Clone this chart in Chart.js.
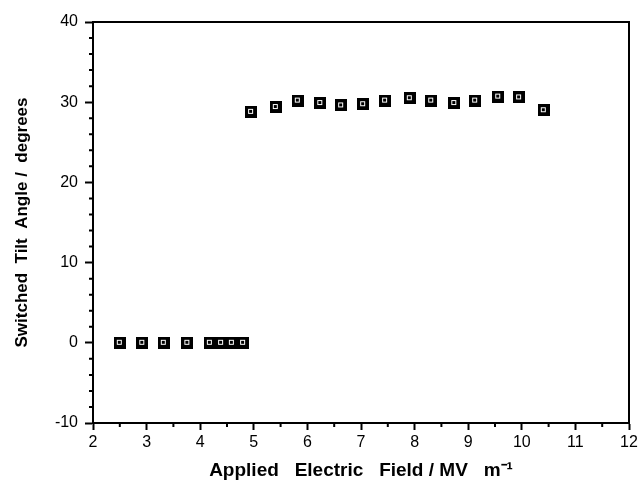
<!DOCTYPE html>
<html>
<head>
<meta charset="utf-8">
<title>Switched Tilt Angle</title>
<script src="https://cdn.jsdelivr.net/npm/chart.js@4"></script>
<style>
    html, body { margin: 0; padding: 0; background: #fff; }
    #wrap { width: 643px; height: 495px; position: relative; }
</style>
</head>
<body>
<div id="wrap"><canvas id="tiltChart"></canvas></div>
<script>
// ============================================
// SWITCHED TILT ANGLE vs APPLIED FIELD
// ============================================

// ========== DATA ==========
const lowField = [2.5, 2.92, 3.32, 3.76, 4.18, 4.39, 4.59, 4.8];
const lowAngle = [0, 0, 0, 0, 0, 0, 0, 0];
const highField = [4.95, 5.41, 5.82, 6.24, 6.63, 7.04, 7.45, 7.91, 8.31, 8.74, 9.13, 9.56, 9.95, 10.41];
const highAngle = [28.8, 29.4, 30.2, 29.9, 29.6, 29.75, 30.2, 30.5, 30.2, 29.9, 30.2, 30.7, 30.6, 29.0];

const xTicks = [2, 3, 4, 5, 6, 7, 8, 9, 10, 11, 12];
const yTicks = [-10, 0, 10, 20, 30, 40];

const FONT = '"Liberation Sans", Arial, Helvetica, sans-serif';

// ========== MARKER (black box with small open square) ==========
function makeMarker() {
    const c = document.createElement('canvas');
    c.width = 12;
    c.height = 12;
    const g = c.getContext('2d');
    g.fillStyle = '#000';
    g.fillRect(0, 0, 12, 12);
    g.strokeStyle = '#fff';
    g.lineWidth = 1;
    g.strokeRect(3.5, 3.5, 4, 4);
    return c;
}

// ========== FRAME + MINOR TICKS ==========
const framePlugin = {
    id: 'frame',
    afterDraw(chart) {
        const ctx = chart.ctx;
        const a = chart.chartArea;
        const xs = chart.scales.x;
        const ys = chart.scales.y;
        ctx.save();
        ctx.strokeStyle = '#000';
        ctx.lineWidth = 2;
        // top + right border
        ctx.beginPath();
        ctx.moveTo(a.left, a.top);
        ctx.lineTo(a.right, a.top);
        ctx.lineTo(a.right, a.bottom);
        ctx.stroke();
        // minor ticks
        ctx.beginPath();
        for (let v = 2.5; v < 12; v += 1) {
            const px = xs.getPixelForValue(v);
            ctx.moveTo(px, a.bottom);
            ctx.lineTo(px, a.bottom + 4);
        }
        for (let v = -8; v < 40; v += 2) {
            if (v % 10 === 0) continue;
            const py = ys.getPixelForValue(v);
            ctx.moveTo(a.left, py);
            ctx.lineTo(a.left - 4, py);
        }
        ctx.stroke();
        ctx.restore();
    }
};

// ========== CHART ==========
function buildChart() {
    const marker = makeMarker();
    const toPoints = (xs, ys) => xs.map((x, i) => ({ x: x, y: ys[i] }));

    const ctx = document.getElementById('tiltChart').getContext('2d');
    return new Chart(ctx, {
        type: 'scatter',
        data: {
            datasets: [
                {
                    label: 'low field',
                    data: toPoints(lowField, lowAngle),
                    pointStyle: marker,
                    pointRadius: 6
                },
                {
                    label: 'high field',
                    data: toPoints(highField, highAngle),
                    pointStyle: marker,
                    pointRadius: 6
                }
            ]
        },
        options: {
            responsive: true,
            maintainAspectRatio: false,
            animation: false,
            layout: {
                padding: { top: 22, right: 14, left: 0, bottom: 0 }
            },
            plugins: {
                legend: { display: false },
                tooltip: { enabled: false }
            },
            scales: {
                x: {
                    type: 'linear',
                    min: 2,
                    max: 12,
                    afterBuildTicks: function(scale) {
                        scale.ticks = xTicks.map(v => ({ value: v }));
                    },
                    afterFit: function(scale) {
                        scale.height = 72;
                    },
                    border: { display: true, color: '#000', width: 2 },
                    grid: {
                        drawOnChartArea: false,
                        drawTicks: true,
                        tickLength: 7,
                        tickWidth: 2,
                        tickColor: '#000'
                    },
                    ticks: {
                        color: '#000',
                        padding: 3,
                        maxRotation: 0,
                        font: { family: FONT, size: 16 }
                    },
                    title: {
                        display: true,
                        text: 'Applied   Electric   Field / MV   m\u207B\u00B9',
                        color: '#000',
                        padding: { top: 0, bottom: 13 },
                        font: { family: FONT, size: 19, weight: 'bold' }
                    }
                },
                y: {
                    type: 'linear',
                    min: -10,
                    max: 40,
                    afterBuildTicks: function(scale) {
                        scale.ticks = yTicks.map(v => ({ value: v }));
                    },
                    afterFit: function(scale) {
                        scale.width = 93;
                    },
                    border: { display: true, color: '#000', width: 2 },
                    grid: {
                        drawOnChartArea: false,
                        drawTicks: true,
                        tickLength: 8,
                        tickWidth: 2,
                        tickColor: '#000'
                    },
                    ticks: {
                        color: '#000',
                        padding: 7,
                        font: { family: FONT, size: 16 }
                    },
                    title: {
                        display: true,
                        text: 'Switched  Tilt  Angle /  degrees',
                        color: '#000',
                        padding: { top: 12, bottom: 0 },
                        font: { family: FONT, size: 17, weight: 'bold' }
                    }
                }
            }
        },
        plugins: [framePlugin]
    });
}

// ========== INIT ==========
document.addEventListener('DOMContentLoaded', function() {
    buildChart();
});
</script>
</body>
</html>
